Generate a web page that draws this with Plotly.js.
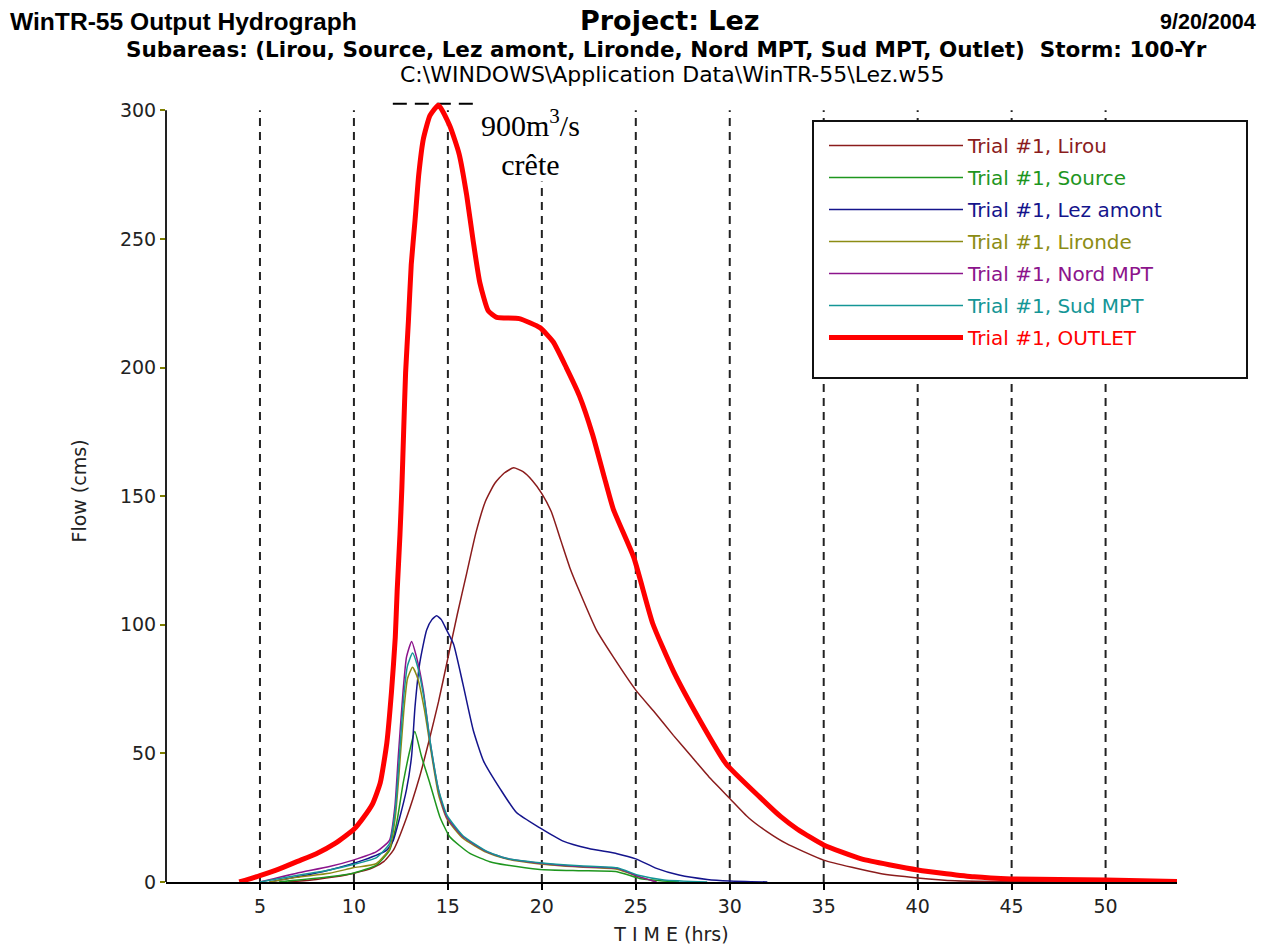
<!DOCTYPE html>
<html>
<head>
<meta charset="utf-8">
<script src="https://cdn.plot.ly/plotly-3.0.1.min.js"></script>
<style>html,body{margin:0;padding:0;background:#fff;}#chart{width:1270px;height:945px;}</style>
</head>
<body>
<div id="chart"></div>
<script>
// ---- data (hours, cms) ----
const tLirou = [6.5,8,9,10,11,11.6,12.1,12.8,13.5,14,14.5,15,15.5,16,16.5,17,17.5,18,18.5,19,19.5,20,20.5,21,21.5,22,22.9,23.8,25,26,27,28,29,30,31,32,33,35,38,40,42,48];
const qLirou = [0,1,2,3.4,5.5,8,12.4,25,41,55,70,87,104,120,136,148,155,159,161,159.5,156,151,144,133,122,113,98,87.5,74.6,66,57,48.5,40,32.5,25,19.5,15,8.5,3.3,1.6,0.5,0];

const tSource = [6,8.7,9.96,11.2,11.9,12.27,12.62,12.98,13.24,13.6,14.04,14.57,15.1,16.17,17.23,18.1,19.9,22,24,25.2,26.3,27.3];
const qSource = [0,2,3.4,6.6,12.4,22.8,38.4,51.3,58.5,48.7,38.4,25.4,17.6,11.1,7.9,6.6,4.9,4.4,4,1.4,0.5,0];

const tLez = [5.5,7,8.7,10.5,11.75,12.1,12.4,12.8,13.07,13.25,13.5,13.87,14.15,14.4,14.65,14.93,15.3,15.8,16.35,16.9,17.8,18.65,19.9,21.1,22.5,24,25,26.1,27.3,28.8,30,32];
const qLez = [0,2,4.7,8.5,12.4,16.3,24,36,49,68,85,98,102,103.5,102,98,92.5,77,59,47,36,27,21,16,13,11,9,5.3,2.7,1,0.4,0];

const tLironde = [5.5,6.95,8.7,9.96,11.2,11.9,12.2,12.4,12.65,12.85,13.12,13.4,13.75,14.1,14.5,14.95,15.8,17.06,18.1,19.9,22,24,25.2,26.1];
const qLironde = [0,1.8,3.4,5.5,7.2,13,25,42,66,79,83.5,79,67,51,34,24.5,17,11.5,9,7,5.8,5,2,0];

const tNord = [5,6.95,8.7,9.96,11.2,11.9,12.18,12.36,12.62,12.8,13.07,13.33,13.69,14.04,14.5,14.93,15.8,17.06,18.1,19.9,22,24,25.2,26.1];
const qNord = [0,3.4,6,8.5,11.8,16.3,29.3,48.7,74.6,87.5,93.5,87.5,74.6,55.2,35.8,25.4,17.6,11.8,9.2,7.3,6,5.3,2,0];

const tSud = [5,6.95,8.7,9.96,11.2,11.9,12.2,12.4,12.65,12.85,13.12,13.38,13.72,14.07,14.5,14.95,15.8,17.06,18.1,19.9,22,24,25.2,26.5,28.8];
const qSud = [0,2.5,4.7,6.8,9.5,15,28,47,72,84,89,84,72,54,36,26,18,12,9.2,7.5,6.3,5.5,2.5,0.8,0];

const tOutlet = [3.9,5,6,7,8,9,10,10.5,11,11.4,11.75,12,12.2,12.3,12.45,12.55,12.65,12.75,12.9,13.05,13.25,13.45,13.7,14.05,14.5,15.1,15.6,16,16.35,16.7,17.15,17.6,18.8,19.9,20.6,21.3,22,22.7,23.3,23.8,24.9,25.9,27,28.4,29.8,31.6,32.7,33.6,35,37,40,43,45,50,53.8];
const qOutlet = [0,2.5,5,8,11,15,20.5,25,30.5,38.5,54,74,95,113,135,153,176,198,218,240,257,275,289,298,302,294,283,267,249,233,222,219.5,219,215.5,210,200,189,174,158,145,126,100.5,82,63,46,33,25.5,20.5,14.4,9,4.7,2,1.2,0.8,0.2];

const seriesNames = ['Trial #1, Lirou','Trial #1, Source','Trial #1, Lez amont','Trial #1, Lironde','Trial #1, Nord MPT','Trial #1, Sud MPT','Trial #1, OUTLET'];
const seriesColors = ['#8b1c1c','#1e961e','#14148c','#8c8c14','#8c148c','#149696','#ff0000'];
const seriesWidths = [1.5,1.5,1.5,1.5,1.5,1.5,5];

const xTicks = [5,10,15,20,25,30,35,40,45,50];
const yTicks = [0,50,100,150,200,250,300];
const peakValue = 302;

// ---- build ----
const times = [tLirou,tSource,tLez,tLironde,tNord,tSud,tOutlet];
const flows = [qLirou,qSource,qLez,qLironde,qNord,qSud,qOutlet];

const traces = times.map((t,i)=>({
  type:'scatter', mode:'lines', x:t, y:flows[i],
  name:'<span style="color:'+seriesColors[i]+'">'+seriesNames[i]+'</span>',
  legendgroup:'g'+i,
  line:{color:seriesColors[i], width:seriesWidths[i], shape:'spline', smoothing:0.5},
  hoverinfo:'skip'
}));

const W = 1270, H = 945, mL = 166, mR = 93, mT = 100, mB = 63;
const pw = W-mL-mR, ph = H-mT-mB;
const px = v => (v-mL)/pw;           // pixel x -> paper
const py = v => (H-mB-v)/ph;         // pixel y -> paper

const shapes = xTicks.map(v=>({
  type:'line', xref:'x', yref:'y', x0:v, x1:v, y0:0, y1:300, layer:'below',
  line:{color:'#222', width:2, dash:'8px,6px'}
}));
shapes.push({type:'line', xref:'paper', yref:'y', x0:0, x1:0, y0:0, y1:300, layer:'above',
  line:{color:'#222', width:2}});
shapes.push({type:'line', xref:'x', yref:'y', x0:12.07, x1:16.4, y0:peakValue+0.5, y1:peakValue+0.5, layer:'below',
  line:{color:'#000', width:2, dash:'14px,8px'}});
shapes.push({type:'rect', xref:'paper', yref:'paper', x0:px(813), x1:px(1247), y0:py(378), y1:py(121), layer:'above',
  fillcolor:'#fff', line:{color:'#111', width:2}});

const annotations = [
  {xref:'paper', yref:'paper', x:px(8), y:py(22), xanchor:'left', yanchor:'middle', showarrow:false,
   text:'<b>WinTR-55 Output Hydrograph</b>', font:{family:'Liberation Sans, Arial', size:24.6, color:'#000'}},
  {xref:'paper', yref:'paper', x:px(670), y:py(20), xanchor:'center', yanchor:'middle', showarrow:false,
   text:'<b>Project: Lez</b>', font:{family:'DejaVu Sans', size:27, color:'#000'}},
  {xref:'paper', yref:'paper', x:px(1258), y:py(22), xanchor:'right', yanchor:'middle', showarrow:false,
   text:'<b>9/20/2004</b>', font:{family:'Liberation Sans, Arial', size:21.5, color:'#000'}},
  {xref:'paper', yref:'paper', x:px(666), y:py(50), xanchor:'center', yanchor:'middle', showarrow:false,
   text:'<b>Subareas: (Lirou, Source, Lez amont, Lironde, Nord MPT, Sud MPT, Outlet)  Storm: 100-Yr</b>', font:{family:'DejaVu Sans', size:21.5, color:'#000'}},
  {xref:'paper', yref:'paper', x:px(672), y:py(75), xanchor:'center', yanchor:'middle', showarrow:false,
   text:'C:\\WINDOWS\\Application Data\\WinTR-55\\Lez.w55', font:{family:'DejaVu Sans', size:22, color:'#000'}},
  {xref:'x', yref:'y', x:19.4, y:287.5, xanchor:'center', yanchor:'middle', showarrow:false,
   text:'900m<sup>3</sup>/s<br>crête', bgcolor:'#fff', borderpad:0,
   font:{family:'Liberation Serif, Times New Roman', size:30, color:'#000'}}
];

const layout = {
  width:W, height:H,
  margin:{l:mL, r:mR, t:mT, b:mB},
  paper_bgcolor:'#fff', plot_bgcolor:'#fff',
  showlegend:true,
  legend:{x:px(824), y:py(126), xanchor:'left', yanchor:'top', bgcolor:'rgba(0,0,0,0)', borderwidth:0,
    font:{family:'DejaVu Sans', size:20, color:'#000'}, itemwidth:134, tracegroupgap:3, traceorder:'grouped'},
  xaxis:{range:[0,53.8], tickvals:xTicks, ticktext:xTicks.map(String), ticks:'outside', ticklen:6, tickwidth:2, tickcolor:'#000',
    showline:true, linecolor:'#000', linewidth:2, showgrid:false, zeroline:false,
    tickfont:{family:'DejaVu Sans', size:19, color:'#222'},
    title:{text:'T I M E (hrs)', font:{family:'DejaVu Sans', size:19, color:'#222'}, standoff:12}},
  yaxis:{range:[0,304], tickvals:yTicks, ticktext:yTicks.map(String), ticks:'outside', ticklen:5, tickwidth:2, tickcolor:'#808000',
    showline:false, showgrid:false, zeroline:false,
    tickfont:{family:'DejaVu Sans', size:19, color:'#222'},
    title:{text:'Flow (cms)', font:{family:'DejaVu Sans', size:19, color:'#222'}, standoff:28}},
  shapes:shapes,
  annotations:annotations
};

Plotly.newPlot('chart', traces, layout, {staticPlot:true, displayModeBar:false});
</script>
</body>
</html>
